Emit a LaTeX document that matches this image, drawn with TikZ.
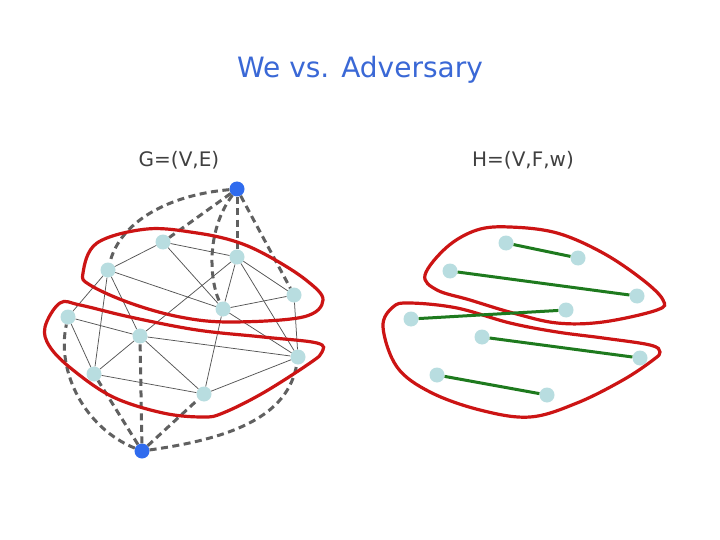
\documentclass[tikz,border=0pt]{standalone}
\usepackage{fontspec}
\setmainfont{DejaVu Sans}
\definecolor{titleblue}{HTML}{3A68D6}
\definecolor{labelgray}{HTML}{404040}
\definecolor{vlight}{HTML}{B8DDE0}
\definecolor{vblue}{HTML}{2F6BEE}
\definecolor{edgegray}{HTML}{555555}
\definecolor{dashgray}{HTML}{606060}
\definecolor{blobred}{HTML}{CC1414}
\definecolor{fgreen}{HTML}{1E7A1E}
\tikzset{
  vtx/.style={circle,fill=vlight,draw=none,minimum size=15pt,inner sep=0pt},
  term/.style={circle,fill=vblue,draw=none,minimum size=15pt,inner sep=0pt},
  thin edge/.style={draw=edgegray,line width=0.75pt},
  dash edge/.style={draw=dashgray,line width=3pt,dash pattern=on 7pt off 4.5pt},
  blob/.style={draw=blobred,line width=3.2pt},
  fedge/.style={draw=fgreen,line width=3pt},
}
\begin{document}
\begin{tikzpicture}[x=1pt,y=-1pt]
\useasboundingbox (0,0) rectangle (720,540);
\fill[white] (0,0) rectangle (720,540);
% title and labels
\node[anchor=base,text=titleblue,font=\fontsize{28}{32}\selectfont,inner sep=0pt] (title) at (360,78) {We vs. Adversary};
\node[anchor=base,text=labelgray,font=\fontsize{20}{24}\selectfont,inner sep=0pt] (glabel) at (179,167) {G=(V,E)};
\node[anchor=base,text=labelgray,font=\fontsize{20}{24}\selectfont,inner sep=0pt] (hlabel) at (523,167) {H=(V,F,w)};
% G vertices
\node[term] (s) at (237,189) {};
\node[term] (t) at (142,451) {};
\node[vtx] (a) at (163,242) {};
\node[vtx] (b) at (237,257) {};
\node[vtx] (c) at (108,270) {};
\node[vtx] (d) at (294,295) {};
\node[vtx] (e) at (223,309) {};
\node[vtx] (f) at (68,317) {};
\node[vtx] (g) at (140,336) {};
\node[vtx] (h) at (298,357) {};
\node[vtx] (i) at (94,374) {};
\node[vtx] (j) at (204,394) {};
% thin edges
\foreach \u/\v in {a/b,a/e,a/c,c/e,c/f,c/i,c/g,b/g,b/e,b/d,b/h,e/d,e/h,e/j,d/h,f/g,f/i,g/h,g/j,g/i,i/j,j/h}
  \path[thin edge] (\u) -- (\v);
% dashed edges
\path[dash edge] (s) .. controls (168,195) and (120,222) .. (c);
\path[dash edge] (s) -- (a);
\path[dash edge] (s) .. controls (205,232) and (210,282) .. (e);
\path[dash edge] (s) -- (b);
\path[dash edge] (s) -- (d);
\path[dash edge] (t) .. controls (85,428) and (56,372) .. (f);
\path[dash edge] (t) -- (i);
\path[dash edge] (t) -- (g);
\path[dash edge] (t) -- (j);
\path[dash edge] (t) .. controls (235,438) and (288,415) .. (h);
% blobs G
\draw[blob] plot[smooth cycle,tension=0.6] coordinates {(83,273) (97,243) (147,229) (197,233) (237,242) (270,257) (306,280) (323,300) (303,317) (230,322) (180,317) (130,303) (90,285)};
\draw[blob] plot[smooth cycle,tension=0.6] coordinates {(45,327) (60,303) (80,305) (130,317) (197,330) (263,337) (317,343) (322,352) (310,363) (263,393) (223,413) (203,417) (163,413) (113,397) (73,370) (50,347)};
% H blobs
\draw[blob] plot[smooth cycle,tension=0.6] coordinates {(425,275) (447,247) (477,230) (510,227) (557,233) (603,253) (643,280) (663,300) (657,310) (603,322) (557,323) (513,313) (470,300) (437,290)};
\draw[blob] plot[smooth cycle,tension=0.6] coordinates {(383,327) (393,307) (410,303) (457,308) (510,323) (557,332) (603,338) (650,345) (660,352) (653,360) (623,380) (577,403) (530,417) (480,410) (430,392) (397,367)};
% H vertices
\node[vtx] (p1) at (506,243) {};
\node[vtx] (p2) at (578,258) {};
\node[vtx] (p3) at (450,271) {};
\node[vtx] (p4) at (637,296) {};
\node[vtx] (p5) at (566,310) {};
\node[vtx] (p6) at (411,319) {};
\node[vtx] (p7) at (482,337) {};
\node[vtx] (p8) at (640,358) {};
\node[vtx] (p9) at (437,375) {};
\node[vtx] (p10) at (547,395) {};
\foreach \u/\v in {p1/p2,p3/p4,p6/p5,p7/p8,p9/p10}
  \path[fedge] (\u) -- (\v);
\end{tikzpicture}
\end{document}
